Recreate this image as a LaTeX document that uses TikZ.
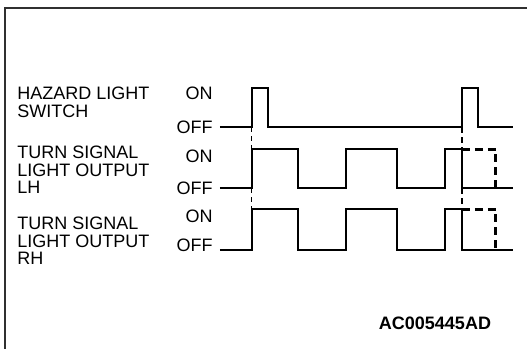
\documentclass[tikz,border=0pt]{standalone}
\usepackage{fontspec}
\setmainfont{Liberation Sans}
\usetikzlibrary{positioning}
\definecolor{frameLine}{HTML}{303030}

\begin{document}
\begin{tikzpicture}[x=0.5pt, y=-0.5pt,
  lbl/.style={font=\fontsize{9}{8.6}\selectfont, inner sep=0pt, align=left, anchor=north west},
  lvl/.style={font=\fontsize{9}{9}\selectfont, inner sep=0pt, anchor=north east},
  wave/.style={line width=1.1pt, line join=miter},
  syncline/.style={line width=0.5pt, dash pattern=on 2.5pt off 2pt},
  syncthick/.style={line width=1pt, dash pattern=on 3pt off 2pt},
  extline/.style={line width=1.5pt, dash pattern=on 4pt off 2.5pt}]

\useasboundingbox (0,0) rectangle (527,349);

% --- FRAME (top and left only) ---
\draw[frameLine, line width=0.8pt] (5,349) -- (5,8) -- (527,8);

% --- SIGNAL NAMES ---
\node[lbl] (hazLbl) at (17,87)  {HAZARD LIGHT\\SWITCH};
\node[lbl] (lhLbl)  at (17,146) {TURN SIGNAL\\LIGHT OUTPUT\\LH};
\node[lbl] (rhLbl)  at (17,217) {TURN SIGNAL\\LIGHT OUTPUT\\RH};

% --- ON / OFF LEVEL LABELS ---
\foreach \nm/\ton/\toff in {haz/87/121, lh/150/182, rh/210/239} {
  \node[lvl] (\nm On)  at (213,\ton)  {ON};
  \node[lvl] (\nm Off) at (213,\toff) {OFF};
}

% --- HAZARD LIGHT SWITCH ---
\def\hOn{88}
\def\hOff{127}
\draw[wave] (220,\hOff) -- (252,\hOff) -- (252,\hOn) -- (268,\hOn)
  -- (268,\hOff) -- (462,\hOff) -- (462,\hOn) -- (478,\hOn)
  -- (478,\hOff) -- (513,\hOff);

% --- TURN SIGNAL OUTPUTS (LH, RH) ---
\foreach \yon/\yoff in {149/188, 209/250} {
  \draw[wave] (220,\yoff) -- (252,\yoff) -- (252,\yon) -- (298,\yon)
    -- (298,\yoff) -- (346,\yoff) -- (346,\yon) -- (397,\yon)
    -- (397,\yoff) -- (445,\yoff) -- (445,\yon) -- (462,\yon)
    -- (462,\yoff) -- (513,\yoff);
  % continuation if hazard stays on
  \draw[extline] (462,\yon) -- (496,\yon) -- (496,\yoff);
}

% --- SYNC LINES ---
\draw[syncline] (252,\hOff) -- (252,149);
\draw[syncline] (252,188) -- (252,209);
\draw[syncthick] (462,\hOff) -- (462,149);
\draw[syncthick] (462,188) -- (462,209);

% --- FIGURE ID ---
\node[font=\fontsize{9}{9}\selectfont\bfseries, inner sep=0pt] (figId) at (435,323) {AC005445AD};

\end{tikzpicture}
\end{document}
